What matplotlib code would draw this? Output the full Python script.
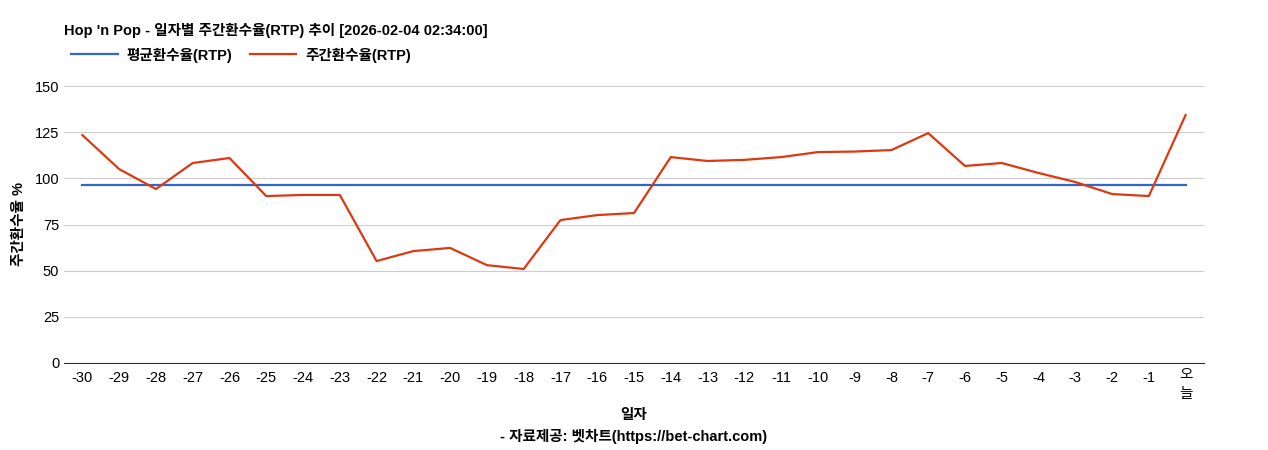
import matplotlib
matplotlib.use("Agg")
import matplotlib.pyplot as plt
import matplotlib.transforms as mtransforms

plt.rcParams['font.family'] = ['Liberation Sans', 'Noto Sans CJK KR']

days = ["-30","-29","-28","-27","-26","-25","-24","-23","-22","-21","-20","-19","-18","-17","-16","-15",
        "-14","-13","-12","-11","-10","-9","-8","-7","-6","-5","-4","-3","-2","-1","오늘"]
weekly_rtp = [123.4,105,94.2,108.3,111,90.4,91,91,55.2,60.6,62.3,53,50.9,77.4,80.1,81.2,
              111.5,109.4,110,111.5,114.2,114.5,115.3,124.5,106.7,108.3,102.9,98,91.5,90.4,134.3]
avg_rtp = [96.4]*len(days)

fig = plt.figure(figsize=(12.68, 4.5), dpi=100)
ax = fig.add_axes([64/1268, 1-363/450, 1140/1268, 277/450])
x = list(range(len(days)))
ax.plot(x, avg_rtp, color='#3366cc', lw=1.6, label='평균환수율(RTP)')
ax.plot(x, weekly_rtp, color='#dc3912', lw=1.6, label='주간환수율(RTP)')
ax.set_xlim(-0.5, len(days)-0.5)
ax.set_ylim(0, 150)
ax.set_yticks([0,25,50,75,100,125,150])
ax.set_xticks(x)
labels = [d if len(d) <= 3 and d.startswith('-') else '' for d in days]
ax.set_xticklabels(labels, fontsize=10.5)
trans = mtransforms.blended_transform_factory(ax.transData, fig.transFigure)
last = days[-1]
ax.text(x[-1], 1-375/450, last[0], transform=trans, ha='center', va='center', fontsize=10.5)
ax.text(x[-1], 1-394/450, last[1], transform=trans, ha='center', va='center', fontsize=10.5)
ax.tick_params(axis='y', labelsize=10.5, length=0)
ax.tick_params(axis='x', length=0, pad=6)
ax.grid(axis='y', color='#cccccc', lw=0.8)
for s in ['top','right','left']:
    ax.spines[s].set_visible(False)
ax.spines['bottom'].set_color('#333333')
ax.set_axisbelow(True)
ax.set_ylabel('주간환수율 %', fontsize=10.5, fontweight='bold', labelpad=6)
fig.text(0.5*(64+1204)/1268, 1-415/450, '일자', fontsize=10.5, fontweight='bold', ha='center', va='center')
fig.text(0.5*(64+1204)/1268, 1-437/450, '- 자료제공: 벳차트(https://bet-chart.com)', fontsize=10.5, fontweight='bold', ha='center', va='center')
fig.text(64/1268, 1-30/450, "Hop 'n Pop - 일자별 주간환수율(RTP) 추이 [2026-02-04 02:34:00]", fontsize=10.5, fontweight='bold', va='center')
fig.legend(loc='center left', bbox_to_anchor=(58/1268, 1-55/450), ncol=2, frameon=False,
           handlelength=3.2, columnspacing=1.2, handletextpad=0.6, prop={'weight':'bold', 'size':10.5})
fig.savefig('out.png', dpi=100)
